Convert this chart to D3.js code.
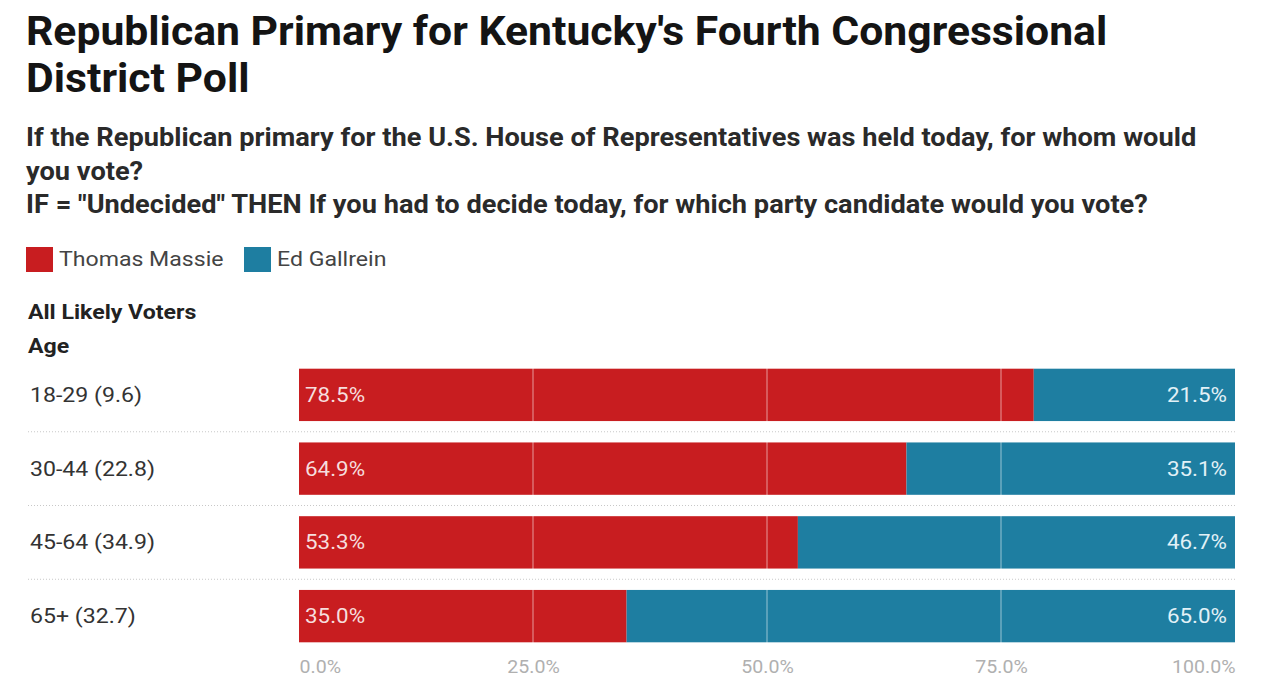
<!DOCTYPE html>
<html><head><meta charset="utf-8">
<script src="https://cdn.jsdelivr.net/npm/d3@7"></script>
<style>body{margin:0;background:#fff;} text{font-family:Roboto, "Noto Sans", sans-serif;}</style>
</head><body>
<svg id="c" width="1266" height="699"></svg>
<script>
const categories = ["18-29 (9.6)", "30-44 (22.8)", "45-64 (34.9)", "65+ (32.7)"];
const massie = [78.5, 64.9, 53.3, 35.0];
const gallrein = [21.5, 35.1, 46.7, 65.0];
const seriesNames = ["Thomas Massie", "Ed Gallrein"];
const tickValues = [0, 25, 50, 75, 100];
const titleLines = ["Republican Primary for Kentucky's Fourth Congressional", "District Poll"];
const subtitleLines = ["If the Republican primary for the U.S. House of Representatives was held today, for whom would", "you vote?", "IF = \"Undecided\" THEN If you had to decide today, for which party candidate would you vote?"];
const groupLabels = ["All Likely Voters", "Age"];

const colors = ["#c81d20", "#1e7ea1"];
const svg = d3.select("#c");

function txt(parent, x, y, s, sx, opts) {
  const t = parent.append("text")
    .attr("transform", `translate(${x},${y}) scale(${sx},1)`)
    .attr("font-size", opts.size)
    .attr("font-weight", opts.weight || 400)
    .attr("fill", opts.fill || "#333")
    .attr("text-anchor", opts.anchor || "start")
    .text(s);
  return t;
}

titleLines.forEach((d,i)=> txt(svg, 26, 45+i*47, d, 1.067, {size:40, weight:700, fill:"#141414"}));
subtitleLines.forEach((d,i)=> txt(svg, 26, 146+i*33.7, d, 1.088, {size:25, weight:700, fill:"#2a2a2a"}));

// legend
const lx = [26, 244];
seriesNames.forEach((n,i)=>{
  svg.append("rect").attr("x", lx[i]).attr("y", 247).attr("width", 27).attr("height", 25).attr("fill", colors[i]);
  txt(svg, lx[i]+33, 266, n, 1.1, {size:21, fill:"#444"});
});

groupLabels.forEach((d,i)=> txt(svg, 28, 319+i*34, d, 1.1, {size:21, weight:700, fill:"#222"}));

const x = d3.scaleLinear().domain([0,100]).range([299, 1235]);
const y = d3.scaleBand().domain(categories).range([358, 653]).paddingInner(0.29).paddingOuter(0.145);

const g = svg.append("g");
categories.forEach((c,i)=>{
  g.append("rect").attr("x", x(0)).attr("y", y(c)).attr("width", x(massie[i])-x(0)).attr("height", y.bandwidth()).attr("fill", colors[0]);
  g.append("rect").attr("x", x(massie[i])).attr("y", y(c)).attr("width", x(100)-x(massie[i])).attr("height", y.bandwidth()).attr("fill", colors[1]);
});
// gridlines over bars
g.selectAll("line.grid").data([25,50,75]).join("line")
  .attr("x1", d=>x(d)).attr("x2", d=>x(d)).attr("y1", 358).attr("y2", 653)
  .attr("stroke", "#ffffff").attr("stroke-opacity", 0.55).attr("stroke-width", 1);
// separators
const step = y.step();
for (let i=0;i<categories.length-1;i++){
  const yy = y(categories[i]) + y.bandwidth() + (step - y.bandwidth())/2;
  g.append("line").attr("x1", 28).attr("x2", 1235).attr("y1", yy).attr("y2", yy)
    .attr("stroke", "#c8c8c8").attr("stroke-dasharray", "1,2").attr("stroke-width", 1);
}
// labels
categories.forEach((c,i)=>{
  const cy = y(c) + y.bandwidth()/2 + 7;
  txt(g, 30, cy, c, 1.1, {size:21, fill:"#333"});
  txt(g, x(0)+6, cy, massie[i].toFixed(1)+"%", 1.12, {size:20, fill:"#f6dede"});
  txt(g, x(100)-8, cy, gallrein[i].toFixed(1)+"%", 1.12, {size:20, fill:"#e2f1f7", anchor:"end"});
});

// axis
const ax = svg.append("g").attr("transform", "translate(0,652)")
  .call(d3.axisBottom(x).tickValues(tickValues).tickSize(0).tickPadding(8).tickFormat(d=>d.toFixed(1)+"%"));
ax.select(".domain").remove();
ax.selectAll(".tick text")
  .attr("font-size", 19).attr("fill", "#b0b0b0").attr("font-family", "Roboto, sans-serif")
  .attr("transform", "scale(1.03,1)")
  .attr("text-anchor", (d,i)=> i===0 ? "start" : (i===tickValues.length-1 ? "end" : "middle"));
</script>
</body></html>
